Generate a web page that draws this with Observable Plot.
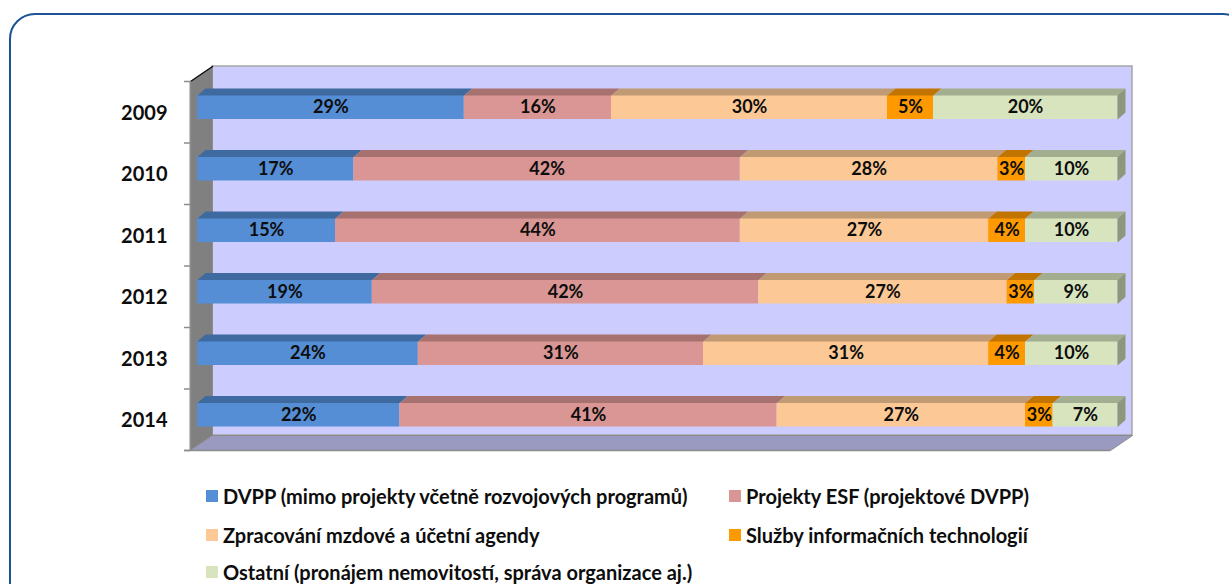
<!DOCTYPE html>
<html>
<head>
<meta charset="utf-8">
<script src="https://cdn.jsdelivr.net/npm/d3@7"></script>
<script src="https://cdn.jsdelivr.net/npm/@observablehq/plot@0.6"></script>
<style>
  html, body { margin: 0; padding: 0; background: #fff; }
  #wrap { position: relative; width: 1229px; height: 584px; overflow: hidden; font-family: Lato, "Open Sans", sans-serif; }
  #border { position: absolute; left: 9px; top: 13px; width: 1240px; height: 600px; border: 2.5px solid #1B5395; border-radius: 26px; box-sizing: border-box; }
  #chart { position: absolute; left: 0; top: 0; }
  .leg { position: absolute; display: flex; align-items: center; font-weight: 700; font-size: 20px; line-height: 22px; color: #0d0d0d; white-space: nowrap; }
  .leg span.sw { display: inline-block; width: 12px; height: 12px; margin-right: 5px; }
</style>
</head>
<body>
<div id="wrap">
  <div id="border"></div>
  <div id="chart"></div>
</div>
<script>
// ---- data ----
const years = ["2009", "2010", "2011", "2012", "2013", "2014"];
const seriesNames = [
  "DVPP (mimo projekty včetně rozvojových programů)",
  "Projekty ESF (projektové DVPP)",
  "Zpracování mzdové a účetní agendy",
  "Služby informačních technologií",
  "Ostatní (pronájem nemovitostí, správa organizace aj.)"
];
const dvpp    = [29, 17, 15, 19, 24, 22];
const esf     = [16, 42, 44, 42, 31, 41];
const mzdy    = [30, 28, 27, 27, 31, 27];
const it      = [5, 3, 4, 3, 4, 3];
const ostatni = [20, 10, 10, 9, 10, 7];
const frontColors = ["#558ED5", "#D99694", "#FCC996", "#FF9900", "#D7E4BD"];
const topColors   = ["#3F6A9F", "#A6716F", "#C09A72", "#C27400", "#A3AD8F"];
const sideColor = "#8E977A";

// ---- layout ----
const W = 1229, H = 470;
const mL = 190, mR = 119, mT = 81, mB = 20;
const pxX = 100 / (W - mL - mR);            // data units per pixel (x)
const pxY = (years.length) / (H - mT - mB); // data units per pixel (y)
const DX = 22 * pxX, DY = 15 * pxY;         // box depth
const barDx = 7, barDy = -4.75;             // bar placement inside box (px)
const half = 12 * pxY;                      // half bar thickness
const ox = 8 * pxX, oy = 7 * pxY;           // bar depth

const values = [dvpp, esf, mzdy, it, ostatni];
const segs = [];
years.forEach((yr, i) => {
  let acc = 0;
  values.forEach((arr, s) => {
    const v = arr[i];
    segs.push({i, s, v, x1: acc, x2: acc + v, key: i + "-" + s});
    acc += v;
  });
});
const tops = segs.flatMap(d => {
  const yt = d.i - half;
  return [
    {key: d.key, s: d.s, x: d.x1, y: yt},
    {key: d.key, s: d.s, x: d.x2, y: yt},
    {key: d.key, s: d.s, x: d.x2 + ox, y: yt - oy},
    {key: d.key, s: d.s, x: d.x1 + ox, y: yt - oy}
  ];
});
const lastSegs = segs.filter(d => d.s === values.length - 1);
const sides = lastSegs.flatMap(d => [
  {key: d.key, x: d.x2, y: d.i - half},
  {key: d.key, x: d.x2 + ox, y: d.i - half - oy},
  {key: d.key, x: d.x2 + ox, y: d.i + half - oy},
  {key: d.key, x: d.x2, y: d.i + half}
]);

const y0 = -0.5, y1 = years.length - 0.5;
const leftWall = [
  {x: 0, y: y0}, {x: DX, y: y0 - DY}, {x: DX, y: y1 - DY}, {x: 0, y: y1}
];
const floor = [
  {x: 0, y: y1}, {x: 100, y: y1}, {x: 100 + DX, y: y1 - DY}, {x: DX, y: y1 - DY}
];
const boundaries = d3.range(years.length + 1).map(k => k - 0.5);

const chart = Plot.plot({
  width: W, height: H,
  marginLeft: mL, marginRight: mR, marginTop: mT, marginBottom: mB,
  style: {fontFamily: "Lato, 'Open Sans', sans-serif", background: "transparent", overflow: "visible"},
  x: {domain: [0, 100], axis: null},
  y: {domain: [y0, y1], reverse: true, axis: null},
  marks: [
    // back wall
    Plot.rect([{}], {x1: 0, x2: 100, y1: y0, y2: y1, dx: 22, dy: -15, fill: "#CCCCFF", stroke: "#A6A6A6", strokeWidth: 1.5}),
    // left wall
    Plot.line(leftWall, {x: "x", y: "y", curve: "linear-closed", fill: "#808080", stroke: "#8C8C8C", strokeWidth: 1}),
    Plot.line(leftWall.slice(0, 2), {x: "x", y: "y", stroke: "#111", strokeWidth: 1.5}),
    // floor
    Plot.line(floor, {x: "x", y: "y", curve: "linear-closed", fill: "#9A9AC0", stroke: "#8C8C8C", strokeWidth: 1}),
    // axis ticks and bottom edge
    Plot.ruleX([0], {y1: y0, y2: y1, stroke: "#8C8C8C", strokeWidth: 1.5}),
    Plot.ruleY(boundaries, {x1: -6 * pxX, x2: 0, stroke: "#8C8C8C", strokeWidth: 1.5}),
    Plot.ruleY([y1], {x1: -6 * pxX, x2: 100, stroke: "#8C8C8C", strokeWidth: 1.5}),
    // bars: front faces
    Plot.rect(segs, {x1: "x1", x2: "x2", y1: d => d.i - half, y2: d => d.i + half, fill: d => frontColors[d.s], dx: barDx, dy: barDy}),
    // bars: top faces
    Plot.line(tops, {x: "x", y: "y", z: "key", curve: "linear-closed", fill: d => topColors[d.s], stroke: "none", dx: barDx, dy: barDy}),
    // bars: right end face
    Plot.line(sides, {x: "x", y: "y", z: "key", curve: "linear-closed", fill: sideColor, stroke: "none", dx: barDx, dy: barDy}),
    // value labels
    Plot.text(segs, {x: d => (d.x1 + d.x2) / 2, y: "i", text: d => d.v + "%", dx: barDx, dy: barDy, fontSize: 18, fontWeight: "bold", fill: "#0d0d0d"}),
    // year labels
    Plot.text(years.map((yr, i) => i), {x: 0, y: d => d, text: d => years[d], textAnchor: "end", dx: -23, dy: 1, fontSize: 20, fontWeight: "bold", fill: "#0d0d0d"})
  ]
});
document.getElementById("chart").appendChild(chart);

// legend
const legendPos = [
  {left: 206, top: 496}, {left: 729, top: 496},
  {left: 206, top: 535}, {left: 729, top: 535},
  {left: 206, top: 572}
];
const wrap = document.getElementById("wrap");
seriesNames.forEach((name, s) => {
  const el = document.createElement("div");
  el.className = "leg";
  el.style.left = legendPos[s].left + "px";
  el.style.top = (legendPos[s].top - 11) + "px";
  el.style.height = "22px";
  const sw = document.createElement("span");
  sw.className = "sw";
  sw.style.background = frontColors[s];
  el.appendChild(sw);
  el.appendChild(document.createTextNode(name));
  wrap.appendChild(el);
});
</script>
</body>
</html>
